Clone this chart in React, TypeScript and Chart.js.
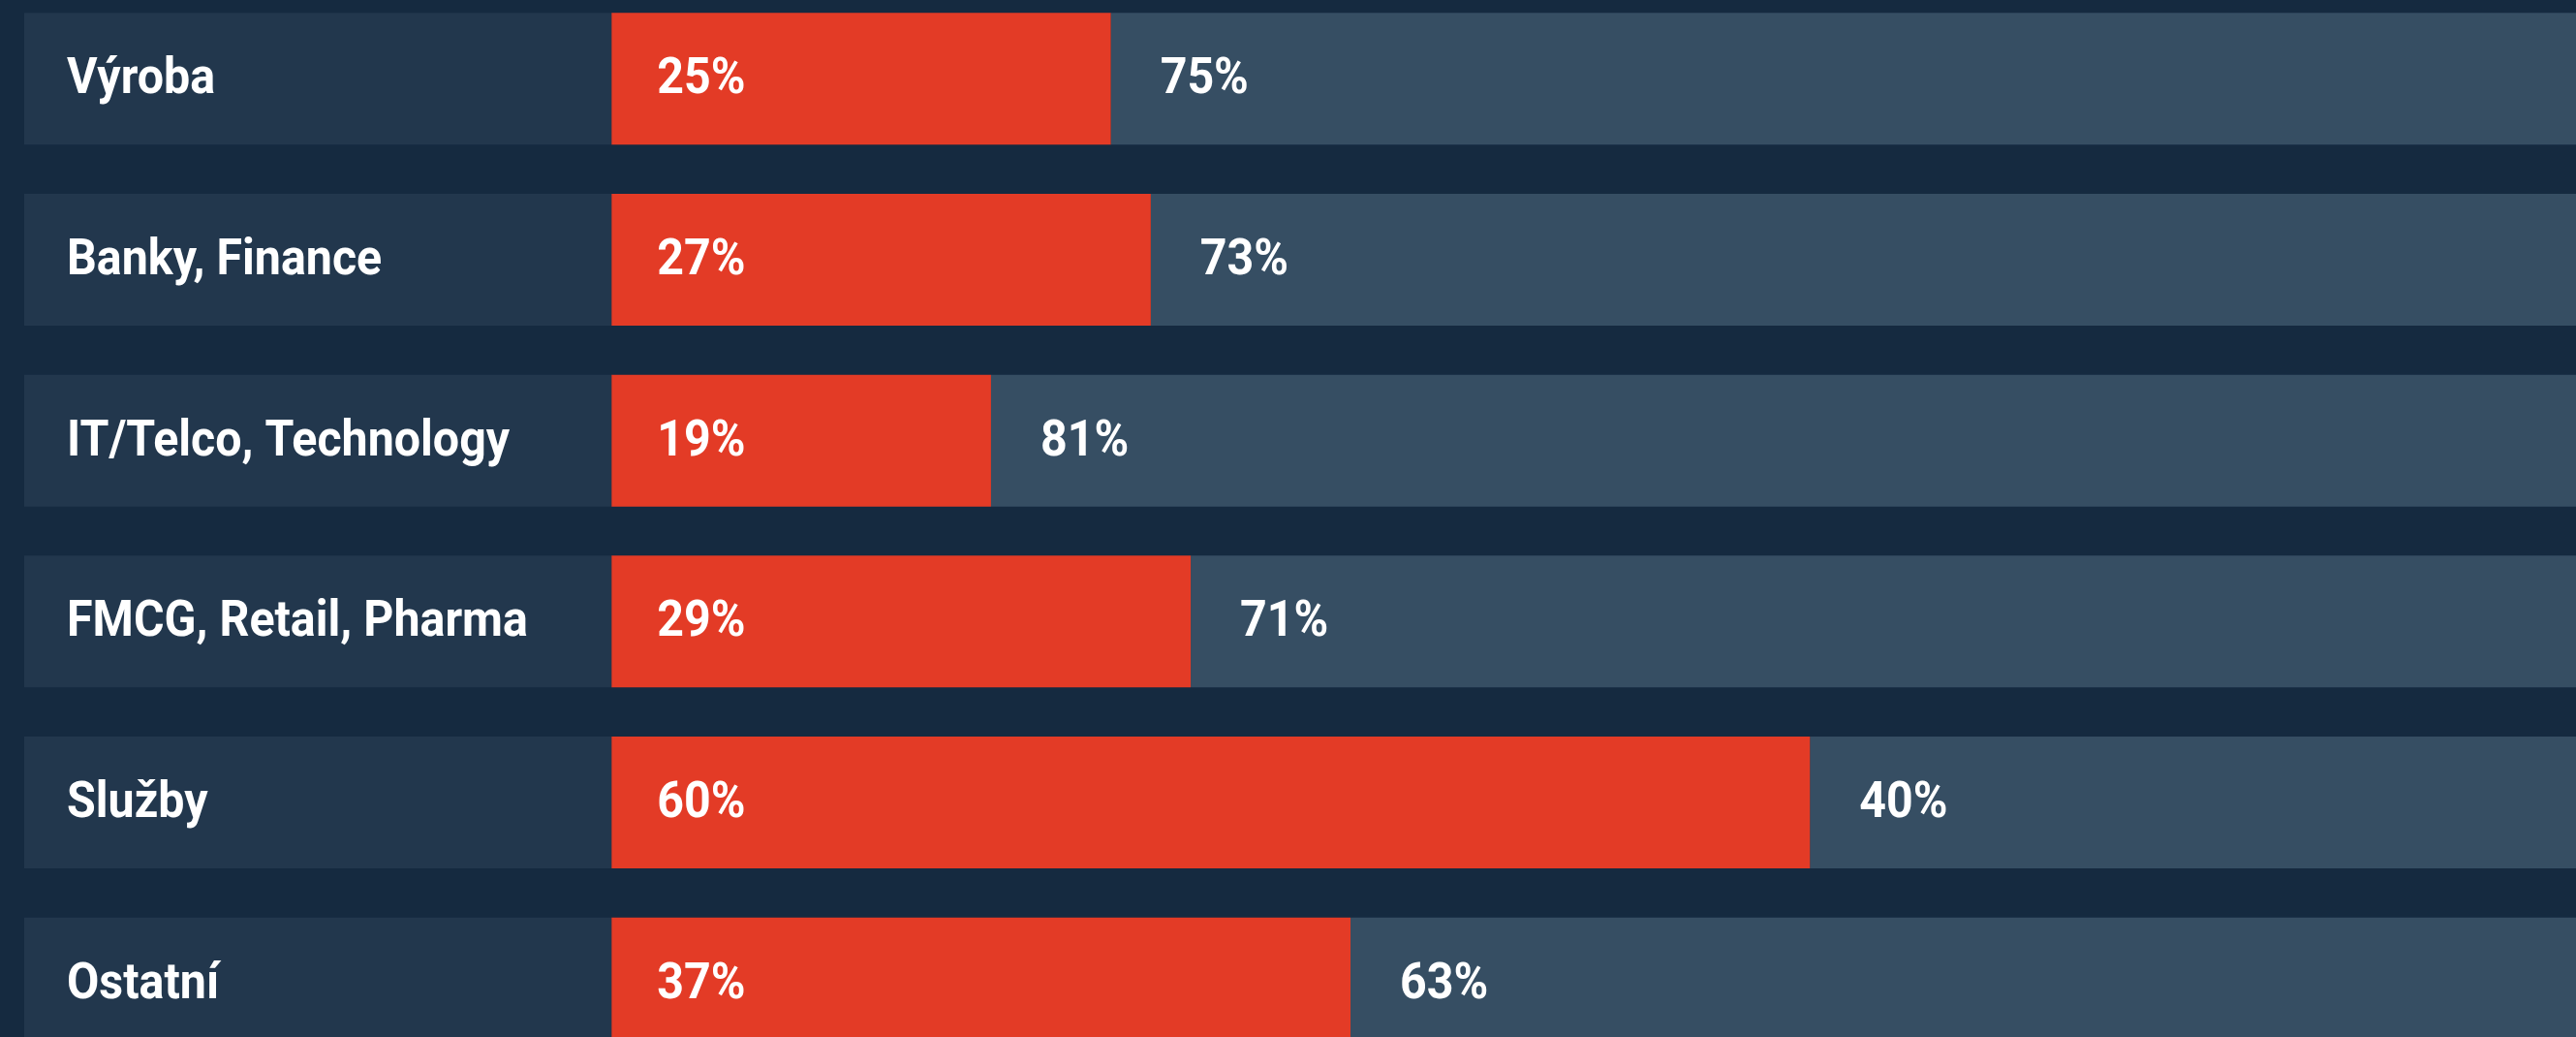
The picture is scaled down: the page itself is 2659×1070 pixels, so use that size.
import React, { useEffect, useRef } from "react";
import { Chart, registerables } from "chart.js";

Chart.register(...registerables);

const categories = [
  "Výroba",
  "Banky, Finance",
  "IT/Telco, Technology",
  "FMCG, Retail, Pharma",
  "Služby",
  "Ostatní",
];
const redValues = [25, 27, 19, 29, 60, 37];
const grayValues = [75, 73, 81, 71, 40, 63];

const LABEL_SPAN = 29.4;
const BG = "#152a40";
const LABEL_BG = "#22374d";
const RED = "#e33b26";
const GRAY = "#364e63";
const TEXT_SCALE_X = 0.93;

const textPlugin = {
  id: "rowText",
  afterDatasetsDraw(chart: any) {
    const ctx = chart.ctx;
    const m0 = chart.getDatasetMeta(0);
    const m1 = chart.getDatasetMeta(1);
    const m2 = chart.getDatasetMeta(2);
    const draw = (t: string, x: number, y: number) => {
      ctx.save();
      ctx.translate(x, y);
      ctx.scale(TEXT_SCALE_X, 1);
      ctx.fillText(t, 0, 0);
      ctx.restore();
    };
    ctx.save();
    ctx.fillStyle = "#ffffff";
    ctx.font = "bold 52px Roboto";
    ctx.textBaseline = "alphabetic";
    ctx.textAlign = "left";
    categories.forEach((cat, i) => {
      const b0 = m0.data[i];
      const b1 = m1.data[i];
      const b2 = m2.data[i];
      const y = b0.y + 15;
      draw(cat, b0.base + 44, y);
      draw(redValues[i] + "%", b1.base + 47, y);
      draw(grayValues[i] + "%", b2.base + 51, y);
    });
    ctx.restore();
  },
};

export default function App() {
  const ref = useRef<HTMLCanvasElement | null>(null);
  useEffect(() => {
    document.documentElement.style.overflow = "hidden";
    document.body.style.overflow = "hidden";
    document.body.style.margin = "0";
    document.body.style.background = BG;
    const canvas = ref.current!;
    const chart = new Chart(canvas, {
      type: "bar",
      data: {
        labels: categories,
        datasets: [
          {
            label: "label",
            data: categories.map(() => LABEL_SPAN),
            backgroundColor: LABEL_BG,
            barPercentage: 1,
            categoryPercentage: 0.7286,
            borderWidth: 0,
          },
          {
            label: "Ano",
            data: redValues,
            backgroundColor: RED,
            barPercentage: 1,
            categoryPercentage: 0.7286,
            borderWidth: 0,
          },
          {
            label: "Ne",
            data: grayValues,
            backgroundColor: GRAY,
            barPercentage: 1,
            categoryPercentage: 0.7286,
            borderWidth: 0,
          },
        ],
      },
      options: {
        indexAxis: "y",
        responsive: false,
        animation: false,
        devicePixelRatio: 1,
        layout: { padding: { left: 25, right: 7, top: 0, bottom: 0 } },
        plugins: { legend: { display: false }, tooltip: { enabled: false } },
        scales: {
          x: { stacked: true, min: 0, max: LABEL_SPAN + 100, display: false },
          y: { stacked: true, display: false },
        },
      },
      plugins: [textPlugin],
    } as any);
    return () => chart.destroy();
  }, []);
  return (
    <div
      style={{
        position: "fixed",
        left: 0,
        top: -12,
        width: 2700,
        height: 1120,
        background: BG,
      }}
    >
      <canvas ref={ref} width={2700} height={1120} style={{ display: "block" }} />
    </div>
  );
}
